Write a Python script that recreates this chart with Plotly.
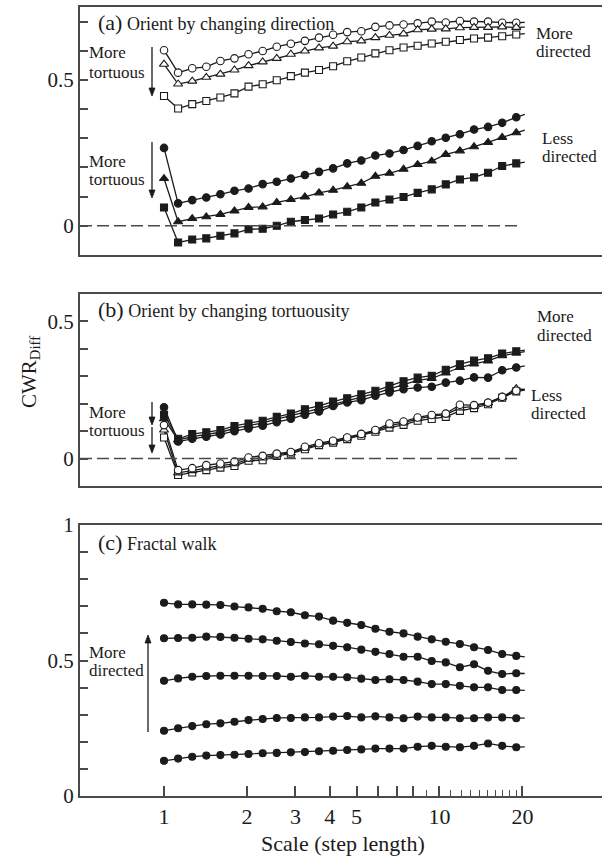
import plotly.graph_objects as go

# ---------------- data ----------------
# scale (step length) for the plotted points
x_steps = [1.000, 1.125, 1.266, 1.424, 1.602, 1.802, 2.027, 2.281, 2.566, 2.887,
           3.247, 3.653, 4.110, 4.624, 5.202, 5.852, 6.583, 7.406, 8.332, 9.373,
           10.54, 11.86, 13.35, 15.01, 16.89, 19.00]
x_line_end = 20.4   # lines run slightly past the last marker

# Panel (a): orient by changing direction (last value = end of line)
a_open_circle = [0.602, 0.525, 0.540, 0.545, 0.565, 0.574, 0.588, 0.599, 0.614, 0.624,
                 0.634, 0.645, 0.655, 0.664, 0.667, 0.682, 0.687, 0.690, 0.694, 0.700,
                 0.697, 0.702, 0.700, 0.700, 0.696, 0.696, 0.697]
a_open_triangle = [0.554, 0.486, 0.496, 0.509, 0.520, 0.534, 0.549, 0.562, 0.574, 0.588,
                   0.599, 0.610, 0.616, 0.631, 0.634, 0.645, 0.653, 0.658, 0.672, 0.674,
                   0.675, 0.679, 0.680, 0.680, 0.682, 0.680, 0.681]
a_open_square = [0.445, 0.402, 0.417, 0.428, 0.440, 0.454, 0.477, 0.485, 0.499, 0.513,
                 0.525, 0.534, 0.547, 0.564, 0.577, 0.591, 0.602, 0.611, 0.617, 0.625,
                 0.631, 0.637, 0.642, 0.645, 0.650, 0.656, 0.659]
a_filled_circle = [0.267, 0.077, 0.088, 0.097, 0.108, 0.120, 0.128, 0.143, 0.151, 0.162,
                   0.174, 0.185, 0.197, 0.214, 0.224, 0.241, 0.248, 0.260, 0.274, 0.290,
                   0.302, 0.314, 0.330, 0.339, 0.353, 0.372, 0.382]
a_filled_triangle = [0.162, 0.014, 0.025, 0.031, 0.039, 0.051, 0.063, 0.065, 0.080, 0.090,
                     0.099, 0.113, 0.122, 0.134, 0.146, 0.170, 0.180, 0.194, 0.210, 0.222,
                     0.245, 0.257, 0.271, 0.286, 0.303, 0.319, 0.328]
a_filled_square = [0.063, -0.057, -0.047, -0.043, -0.034, -0.026, -0.012, -0.010, 0.000, 0.014,
                   0.020, 0.025, 0.039, 0.048, 0.063, 0.080, 0.090, 0.099, 0.113, 0.125,
                   0.142, 0.159, 0.166, 0.182, 0.205, 0.214, 0.218]

# Panel (b): orient by changing tortuousity
b_filled_circle = [0.187, 0.062, 0.072, 0.080, 0.088, 0.100, 0.110, 0.120, 0.133, 0.145,
                   0.160, 0.172, 0.192, 0.205, 0.213, 0.229, 0.241, 0.253, 0.259, 0.262,
                   0.277, 0.284, 0.296, 0.295, 0.322, 0.332, 0.338]
b_filled_triangle = [0.145, 0.068, 0.080, 0.088, 0.096, 0.110, 0.120, 0.130, 0.144, 0.156,
                     0.170, 0.182, 0.198, 0.210, 0.224, 0.238, 0.255, 0.270, 0.285, 0.292,
                     0.312, 0.332, 0.345, 0.356, 0.375, 0.385, 0.390]
b_filled_square = [0.160, 0.072, 0.089, 0.096, 0.104, 0.119, 0.128, 0.138, 0.152, 0.164,
                   0.180, 0.192, 0.208, 0.220, 0.234, 0.247, 0.265, 0.282, 0.295, 0.302,
                   0.324, 0.344, 0.357, 0.366, 0.383, 0.391, 0.395]
b_open_circle = [0.122, -0.042, -0.035, -0.024, -0.018, -0.011, 0.004, 0.010, 0.018, 0.024,
                 0.043, 0.056, 0.065, 0.077, 0.090, 0.104, 0.128, 0.135, 0.150, 0.159,
                 0.164, 0.196, 0.195, 0.204, 0.225, 0.247, 0.252]
b_open_triangle = [0.104, -0.052, -0.044, -0.034, -0.026, -0.019, -0.002, 0.002, 0.014, 0.021,
                   0.038, 0.052, 0.061, 0.074, 0.087, 0.101, 0.120, 0.130, 0.145, 0.155,
                   0.160, 0.185, 0.190, 0.203, 0.224, 0.255, 0.252]
b_open_square = [0.077, -0.060, -0.051, -0.042, -0.033, -0.027, -0.008, -0.006, 0.010, 0.018,
                 0.034, 0.049, 0.058, 0.071, 0.083, 0.098, 0.113, 0.123, 0.138, 0.144,
                 0.152, 0.174, 0.184, 0.198, 0.222, 0.245, 0.250]

# Panel (c): fractal walk
c_walk_1 = [0.713, 0.707, 0.707, 0.706, 0.705, 0.699, 0.696, 0.691, 0.682, 0.678,
            0.667, 0.662, 0.647, 0.639, 0.631, 0.617, 0.606, 0.600, 0.588, 0.578,
            0.569, 0.561, 0.549, 0.539, 0.524, 0.517, 0.513]
c_walk_2 = [0.582, 0.583, 0.584, 0.588, 0.587, 0.584, 0.580, 0.578, 0.573, 0.568,
            0.563, 0.560, 0.554, 0.549, 0.540, 0.532, 0.524, 0.514, 0.514, 0.498,
            0.493, 0.475, 0.486, 0.462, 0.450, 0.453, 0.452]
c_walk_3 = [0.425, 0.434, 0.440, 0.443, 0.444, 0.444, 0.444, 0.443, 0.443, 0.440,
            0.444, 0.440, 0.440, 0.438, 0.433, 0.428, 0.431, 0.428, 0.422, 0.413,
            0.413, 0.407, 0.401, 0.401, 0.391, 0.391, 0.390]
c_walk_4 = [0.241, 0.250, 0.258, 0.265, 0.268, 0.274, 0.280, 0.284, 0.288, 0.288,
            0.290, 0.290, 0.293, 0.295, 0.290, 0.294, 0.290, 0.287, 0.293, 0.290,
            0.290, 0.287, 0.287, 0.290, 0.290, 0.287, 0.287]
c_walk_5 = [0.130, 0.138, 0.145, 0.149, 0.151, 0.152, 0.155, 0.158, 0.159, 0.161,
            0.162, 0.165, 0.167, 0.170, 0.172, 0.175, 0.175, 0.175, 0.182, 0.185,
            0.182, 0.180, 0.185, 0.194, 0.185, 0.180, 0.181]

x_major_ticks = [1, 2, 3, 4, 5, 6, 7, 8, 10, 20]
x_major_labels = ["1", "2", "3", "4", "5", "", "", "", "10", "20"]
x_minor_ticks = [9, 11, 12, 13, 14, 15, 16, 17, 18, 19]

ya_ticks = [0, 0.1, 0.2, 0.3, 0.4, 0.5, 0.6, 0.7]
ya_labels = ["0", "", "", "", "", "0.5", "", ""]
yb_ticks = [0, 0.1, 0.2, 0.3, 0.4, 0.5]
yb_labels = ["0", "", "", "", "", "0.5"]
yc_ticks = [0, 0.1, 0.2, 0.3, 0.4, 0.5, 0.6, 0.7, 0.8, 0.9, 1.0]
yc_labels = ["0", "", "", "", "", "0.5", "", "", "", "", "1"]

# ---------------- styling ----------------
W, H = 602, 857
ML, MR, MT, MB = 80, 0, 7, 61
PW, PH = W - ML - MR, H - MT - MB
INK = "#1b1b1b"
AXIS = "#4a4a4a"
FONT = "Liberation Serif"


def px(xp):
    return (xp - ML) / PW


def py(yp):
    return (H - MB - yp) / PH


fig = go.Figure()

x_line = x_steps + [x_line_end]

panels = [
    ("x", "y", [(a_open_circle, "circle", False, 7.5), (a_open_triangle, "triangle-up", False, 8),
                (a_open_square, "square", False, 7), (a_filled_circle, "circle", True, 7.5),
                (a_filled_triangle, "triangle-up", True, 8), (a_filled_square, "square", True, 7)]),
    ("x2", "y2", [(b_open_square, "square", False, 7), (b_open_triangle, "triangle-up", False, 8),
                  (b_open_circle, "circle", False, 7.5), (b_filled_circle, "circle", True, 7.5),
                  (b_filled_triangle, "triangle-up", True, 8), (b_filled_square, "square", True, 7)]),
    ("x3", "y3", [(c_walk_1, "circle", True, 7), (c_walk_2, "circle", True, 7),
                  (c_walk_3, "circle", True, 7), (c_walk_4, "circle", True, 7),
                  (c_walk_5, "circle", True, 7)]),
]

for xa, ya, series in panels:
    for vals, sym, filled, size in series:
        fig.add_trace(go.Scatter(x=x_line, y=vals, xaxis=xa, yaxis=ya, mode="lines",
                                 line=dict(color=INK, width=1.3), hoverinfo="skip",
                                 showlegend=False))
    for vals, sym, filled, size in series:
        fig.add_trace(go.Scatter(x=x_steps, y=vals[:len(x_steps)], xaxis=xa, yaxis=ya,
                                 mode="markers",
                                 marker=dict(symbol=sym, size=size,
                                             color=INK if filled else "white",
                                             line=dict(color=INK, width=1.1)),
                                 hoverinfo="skip", showlegend=False))

xr = [-0.305, 1.59]
common_x = dict(type="log", range=xr, domain=[0, 1], showgrid=False, zeroline=False,
                showline=True, mirror=True, linecolor=AXIS, linewidth=2, automargin=False)
common_y = dict(showgrid=False, zeroline=False, showline=True, linecolor=AXIS, linewidth=2,
                ticks="inside", ticklen=8, tickwidth=1.5, tickcolor=AXIS, tickmode="array",
                tickfont=dict(family=FONT, size=21, color=INK), automargin=False)

fig.update_layout(
    width=W, height=H,
    margin=dict(l=ML, r=MR, t=MT, b=MB),
    paper_bgcolor="white", plot_bgcolor="white",
    font=dict(family=FONT, color=INK),
    xaxis=dict(common_x, anchor="y", showticklabels=False, ticks=""),
    yaxis=dict(common_y, anchor="x", domain=[py(255), 1.0], range=[-0.1, 0.75],
               tickvals=ya_ticks, ticktext=ya_labels),
    xaxis2=dict(common_x, anchor="y2", showticklabels=False, ticks=""),
    yaxis2=dict(common_y, anchor="x2", domain=[py(486), py(294)], range=[-0.1, 0.6],
                tickvals=yb_ticks, ticktext=yb_labels),
    xaxis3=dict(common_x, anchor="y3", ticks="inside", ticklen=10, tickwidth=1.5,
                tickcolor=AXIS, tickmode="array", tickvals=x_major_ticks,
                ticktext=x_major_labels, tickfont=dict(family=FONT, size=22, color=INK),
                minor=dict(tickmode="array", tickvals=x_minor_ticks, ticks="inside",
                           ticklen=6, tickwidth=1.2, tickcolor=AXIS)),
    yaxis3=dict(common_y, anchor="x3", domain=[0, py(525)], range=[0, 1.0],
                tickvals=yc_ticks, ticktext=yc_labels),
)

# dashed zero lines
for xd, ya in [("x domain", "y"), ("x2 domain", "y2")]:
    fig.add_shape(type="line", xref=xd, yref=ya, x0=0, x1=px(518), y0=0, y1=0,
                  line=dict(color=AXIS, width=1.5, dash="12px,5px"))


def arrow(xp, y_head, y_tail):
    # shaft
    direction = 1 if y_head > y_tail else -1
    base = y_head - direction * 8
    fig.add_shape(type="line", xref="paper", yref="paper",
                  x0=px(xp), x1=px(xp), y0=py(y_tail), y1=py(base),
                  line=dict(color=INK, width=1.3))
    path = "M {} {} L {} {} L {} {} Z".format(
        px(xp - 3), py(base), px(xp), py(y_head), px(xp + 3), py(base))
    fig.add_shape(type="path", xref="paper", yref="paper", path=path,
                  fillcolor=INK, line=dict(color=INK, width=0.8))


arrow(152, 96, 47)
arrow(152, 198, 142)
arrow(152, 425, 402)
arrow(152, 453, 427)
arrow(148, 635, 732)

anns = []


def txt(text, xp, yp, size=17, xanchor="left"):
    anns.append(dict(text=text, x=px(xp), y=py(yp), xref="paper", yref="paper",
                     xanchor=xanchor, yanchor="middle", showarrow=False,
                     font=dict(family=FONT, size=size, color=INK)))


# panel titles
txt("<span style='font-size:22px'>(a)</span> Orient by changing direction", 96, 23, size=18)
txt("<span style='font-size:22px'>(b)</span> Orient by changing tortuousity", 96, 310, size=18)
txt("<span style='font-size:22px'>(c)</span> Fractal walk", 96, 542, size=18)

# left side notes
txt("More", 87, 53)
txt("tortuous", 87, 72)
txt("More", 87, 161)
txt("tortuous", 87, 179)
txt("More", 87, 412)
txt("tortuous", 87, 430)
txt("More", 87, 652)
txt("directed", 87, 670)

# right side notes
txt("More", 534, 33)
txt("directed", 534, 51)
txt("Less", 540, 138)
txt("directed", 540, 157)
txt("More", 535, 317)
txt("directed", 535, 335)
txt("Less", 529, 395)
txt("directed", 529, 413)

# axis titles
txt("Scale (step length)", 343, 843, size=22, xanchor="center")
anns.append(dict(text="CWR<sub>Diff</sub>", x=px(30), y=py(372), xref="paper", yref="paper",
                 xanchor="center", yanchor="middle", showarrow=False, textangle=-90,
                 font=dict(family=FONT, size=21, color=INK)))

fig.update_layout(annotations=anns)

fig.write_html("out.html")
